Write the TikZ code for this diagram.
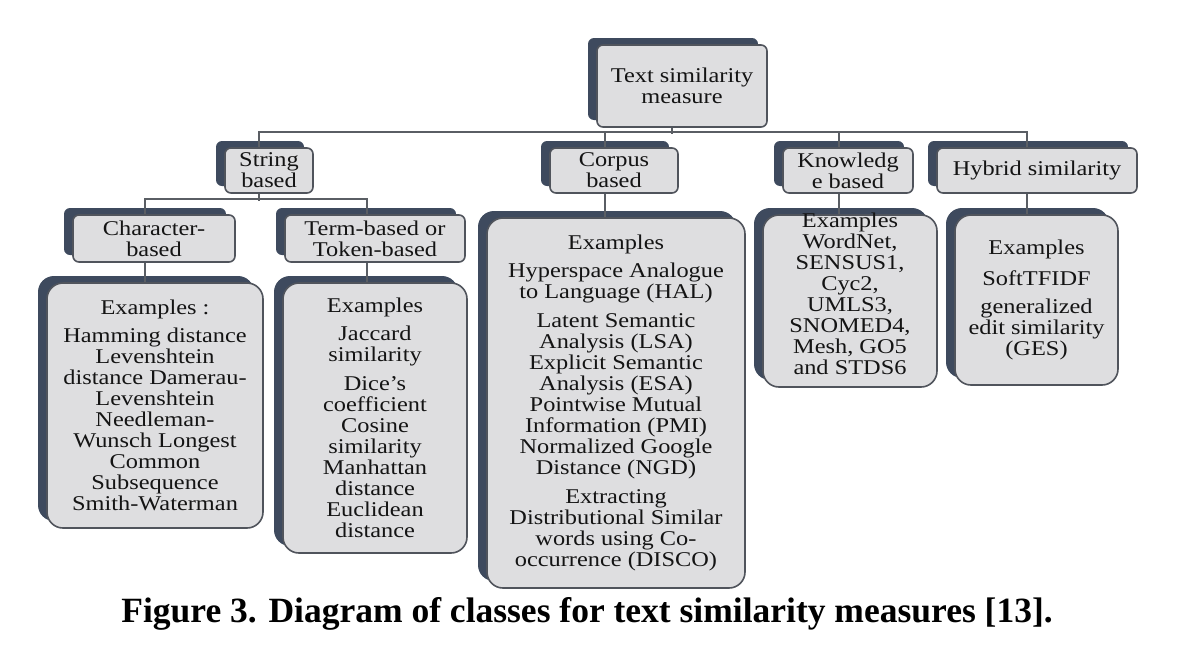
\documentclass[tikz,border=0pt]{standalone}
\usepackage{fontspec}
\setmainfont{Liberation Serif}[FakeStretch=1.16]
\newfontfamily\capfont{Liberation Serif}
\usetikzlibrary{shadows}
\definecolor{panel}{RGB}{62,74,94}
\definecolor{boxfill}{RGB}{222,222,224}
\definecolor{boxline}{RGB}{80,84,92}
\definecolor{linkgray}{RGB}{90,94,100}
\tikzset{
  catbox/.style={draw=boxline, line width=1.6pt, fill=boxfill, rounded corners=6pt,
    general shadow={fill=panel, shadow xshift=-9pt, shadow yshift=7pt},
    align=center, inner sep=0pt, text=black!92, font=\fontsize{21}{21}\selectfont},
  exbox/.style={catbox, rounded corners=16pt},
  link/.style={draw=linkgray, line width=1.6pt}
}
\begin{document}
\begin{tikzpicture}[x=1pt,y=-1pt]
	\useasboundingbox[fill=white] (0,0) rectangle (1200,659);

	\node[catbox, minimum width=170pt, minimum height=82pt] (root) at (682,86) {Text similarity\\measure};

	\node[catbox, minimum width=88pt, minimum height=45pt] (string) at (269,170.5) {String\\based};
	\node[catbox, minimum width=128pt, minimum height=45pt] (corpus) at (614,170.5) {Corpus\\based};
	\node[catbox, minimum width=130pt, minimum height=45pt] (knowledge) at (848,170.5) {Knowledg\\e based};
	\node[catbox, minimum width=200pt, minimum height=45pt] (hybrid) at (1037,170.5) {Hybrid similarity};

	\node[catbox, minimum width=162pt, minimum height=47pt] (char) at (154,238.5) {Character-\\based};
	\node[catbox, minimum width=180pt, minimum height=47pt] (term) at (375,238.5) {Term-based or\\Token-based};

	\node[exbox, minimum width=216pt, minimum height=245pt] (charex) at (155,405.5)
		{Examples :\\[7pt]Hamming distance\\Levenshtein\\distance Damerau-\\Levenshtein\\Needleman-\\Wunsch Longest\\Common\\Subsequence\\Smith-Waterman};
	\node[exbox, minimum width=184pt, minimum height=270pt] (termex) at (375,418)
		{Examples\\[7pt]Jaccard\\similarity\\[8pt]Dice’s\\coefficient\\Cosine\\similarity\\Manhattan\\distance\\Euclidean\\distance};
	\node[exbox, minimum width=258pt, minimum height=370pt] (corpusex) at (616,403)
		{Examples\\[7pt]Hyperspace Analogue\\to Language (HAL)\\[8pt]Latent Semantic\\Analysis (LSA)\\Explicit Semantic\\Analysis (ESA)\\Pointwise Mutual\\Information (PMI)\\Normalized Google\\Distance (NGD)\\[8pt]Extracting\\Distributional Similar\\words using Co-\\occurrence (DISCO)};
	\node[exbox, minimum width=174pt, minimum height=172pt] (knowex) at (850,301)
		{\raisebox{0pt}[0pt][0pt]{}\\[-26pt]Examples\\WordNet,\\SENSUS1,\\Cyc2,\\UMLS3,\\SNOMED4,\\Mesh, GO5\\and STDS6};
	\node[exbox, minimum width=163pt, minimum height=170pt] (hybridex) at (1036.5,300)
		{Examples\\[10pt]SoftTFIDF\\[7pt]generalized\\edit similarity\\(GES)};

	\draw[link] ([xshift=-10pt]root.south) -- ++(0,6);
	\draw[link] ([xshift=-10pt]string.north) -- ++(0,-15) -| ([xshift=-10pt]hybrid.north);
	\draw[link] ([xshift=-9pt]corpus.north) -- ++(0,-15);
	\draw[link] ([xshift=-9pt]knowledge.north) -- ++(0,-15);
	\draw[link] ([xshift=-10pt]string.south) -- ++(0,7);
	\draw[link] ([xshift=-9pt]char.north) -- ++(0,-15) -| ([xshift=-8pt]term.north);
	\draw[link] ([xshift=-9pt]char.south) -- ([xshift=-9pt]char.south |- charex.north);
	\draw[link] ([xshift=-8pt]term.south) -- ([xshift=-8pt]term.south |- termex.north);
	\draw[link] ([xshift=-9pt]corpus.south) -- ([xshift=-9pt]corpus.south |- corpusex.north);
	\draw[link] ([xshift=-9pt]knowledge.south) -- ([xshift=-9pt]knowledge.south |- knowex.north);
	\draw[link] ([xshift=-10pt]hybrid.south) -- ([xshift=-10pt]hybrid.south |- hybridex.north);

	\node[anchor=base, font=\capfont\bfseries\fontsize{35.5}{36}\selectfont] (caption) at (587,622)
		{Figure 3. Diagram of classes for text similarity measures [13].};
\end{tikzpicture}
\end{document}
